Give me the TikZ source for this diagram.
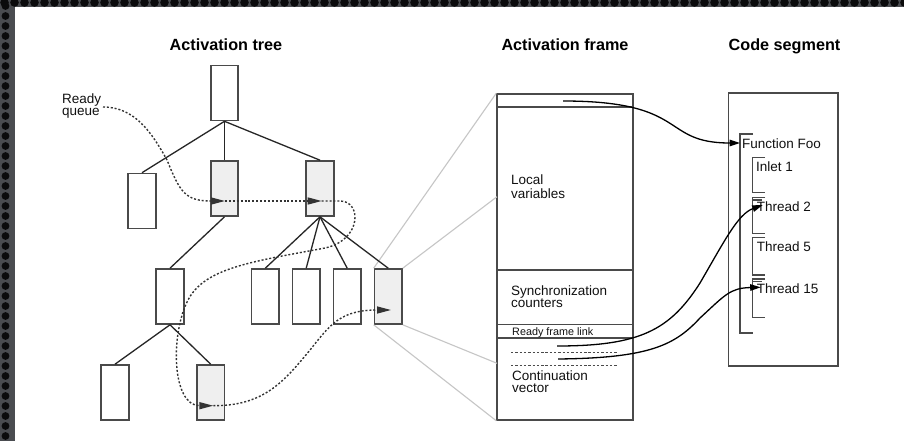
\documentclass[tikz,border=0pt]{standalone}
\usepackage{fontspec}
\setmainfont{Liberation Sans}
\usetikzlibrary{arrows.meta}
\definecolor{boxline}{HTML}{4A4A4A}
\definecolor{activefill}{HTML}{EFEFEF}
\definecolor{fanline}{HTML}{C6C6C6}
\definecolor{plate}{HTML}{4A4C50}
\definecolor{hole}{HTML}{0B0B0C}
\definecolor{ink}{HTML}{111111}
\begin{document}
\begin{tikzpicture}[x=1pt,y=-1pt,
  framebox/.style={draw=boxline,line width=1.6pt,inner sep=0pt,minimum width=27.5pt,minimum height=55pt},
  idle/.style={framebox,fill=white},
  active/.style={framebox,fill=activefill},
  treeedge/.style={draw=black!85,line width=1.3pt},
  fan/.style={draw=fanline,line width=1.1pt},
  queue/.style={draw=black!80,line width=1.4pt,dash pattern=on 2pt off 1.9pt},
  queuehead/.style={-{Triangle[length=14pt,width=7pt]}},
  title/.style={font=\fontsize{16.2}{18}\selectfont\bfseries,inner sep=0pt,anchor=base},
  txt/.style={font=\fontsize{13.5}{14}\selectfont,inner sep=0pt,anchor=base west,text=ink},
  tinytxt/.style={font=\fontsize{10.8}{12}\selectfont,inner sep=0pt,anchor=base west,text=ink},
  pen/.style={draw=boxline,line width=1.5pt},
  cvdash/.style={draw=boxline,line width=0.9pt,dash pattern=on 2.4pt off 1.9pt},
  pointer/.style={draw=black,line width=1.3pt,-{Triangle[length=10.5pt,width=6.5pt]}},
]
% perforated slide border and white page
\useasboundingbox (0,0) rectangle (904,441);
\fill[plate] (0,0) rectangle (904,441);
\foreach \i in {0,...,90} \fill[hole] (4.5+10*\i,2.5) circle (4.3pt);
\foreach \j in {0,...,44} \fill[hole] (5.5,6+10*\j) circle (3.9pt);
\fill[white] (15,7) rectangle (904,441);

% column titles
\node[title] (ttree)  at (226,50.8)   {Activation tree};
\node[title] (tframe) at (565,50.8)   {Activation frame};
\node[title] (tcode)  at (784.5,50.8) {Code segment};

% activation tree
\node[idle]   (root) at (224.5,93)    {};
\node[idle]   (a1)   at (142,201)     {};
\node[active] (a2)   at (224.5,188.5) {};
\node[active] (a3)   at (320,188.5)   {};
\node[idle]   (b1)   at (170,296.5)   {};
\node[idle]   (b2)   at (265.3,296.5) {};
\node[idle]   (b3)   at (306.2,296.5) {};
\node[idle]   (b4)   at (347.2,296.5) {};
\node[active] (b5)   at (388.2,296.5) {};
\node[idle]   (c1)   at (115,392.5)   {};
\node[active] (c2)   at (210.7,392.5) {};

% activation frame
\node[draw=boxline,line width=1.5pt,inner sep=0pt,minimum width=136pt,minimum height=326pt] (frame) at (565,257) {};
\draw[pen] (497,107) -- (633,107);
\draw[pen] (497,270) -- (633,270);
\draw[pen] (497,324.5) -- (633,324.5);
\draw[pen] (497,338) -- (633,338);

% zoom lines from the active frame to its layout
\coordinate (fanA) at (497,196.7);
\coordinate (fanB) at (497,363.3);
\draw[fan] (b5.north west) -- (frame.north west);
\draw[fan] (b5.north east) -- (fanA);
\draw[fan] (b5.south east) -- (fanB);
\draw[fan] (b5.south west) -- (frame.south west);

% tree edges
\draw[treeedge] (root.south) -- (a1.north);
\draw[treeedge] (root.south) -- (a2.north);
\draw[treeedge] (root.south) -- (a3.north);
\draw[treeedge] (a2.south) -- (b1.north);
\draw[treeedge] (a3.south) -- (b2.north);
\draw[treeedge] (a3.south) -- (b3.north);
\draw[treeedge] (a3.south) -- (b4.north);
\draw[treeedge] (a3.south) -- (b5.north);
\draw[treeedge] (b1.south) -- (c1.north);
\draw[treeedge] (b1.south) -- (c2.north);

% frame contents
\node[txt] (lv1) at (511,184.3) {Local};
\node[txt] (lv2) at (511,198.7) {variables};
\node[txt] (sc1) at (511,295)   {Synchronization};
\node[txt] (sc2) at (511,307.7) {counters};
\node[tinytxt] (rfl) at (512,335.3) {Ready frame link};
\draw[cvdash] (511,352) -- (617,352);
\draw[cvdash] (511,365.7) -- (617,365.7);
\node[txt] (cv1) at (512,380)   {Continuation};
\node[txt] (cv2) at (512,392.3) {vector};

% code segment
\node[draw=boxline,line width=1.5pt,inner sep=0pt,minimum width=109.5pt,minimum height=272.5pt] (code) at (783,229.5) {};
\draw[pen] (753,134) -- (740,134) -- (740,333) -- (753,333);
\draw[pen] (765,157.3) -- (752.3,157.3) -- (752.3,192.7) -- (765,192.7);
\draw[pen] (765,197.3) -- (752.3,197.3) -- (752.3,233.3) -- (765,233.3);
\draw[pen] (752.3,199.8) -- (762,199.8);
\draw[pen] (765,237.3) -- (752.3,237.3) -- (752.3,275) -- (765,275);
\draw[pen] (765,279) -- (752.3,279) -- (752.3,317.7) -- (765,317.7);
\draw[pen] (752.3,281.5) -- (762,281.5);
\node[txt] (foo) at (742,148.3)   {Function Foo};
\node[txt] (in1) at (756,171.7)   {Inlet 1};
\node[txt] (th2) at (756.7,211)   {Thread 2};
\node[txt] (th5) at (756.7,251.7) {Thread 5};
\node[txt] (th15) at (756.7,293.3) {Thread 15};

% ready queue
\node[txt] (rq1) at (62,103.3) {Ready};
\node[txt] (rq2) at (62,115.3) {queue};
\coordinate (rqs) at (103,107);
\coordinate (q1) at (225,201);
\coordinate (q2) at (321.7,201);
\coordinate (q3) at (213.3,405.7);
\coordinate (q4) at (391,310);
\draw[queue,queuehead] (rqs) .. controls (135,107) and (152,133) .. (167,160)
  .. controls (180,192) and (185,201) .. (q1);
\draw[queue,queuehead] (q1) -- (q2);
\draw[queue,queuehead] (q2) -- (340,201) .. controls (362,201) and (362,240) .. (325,248)
  .. controls (250,262) and (205,268) .. (188,300)
  .. controls (170,335) and (172,405.7) .. (q3);
\draw[queue,queuehead] (q3) .. controls (265,406) and (285,380) .. (310,350)
  .. controls (330,325) and (340,310) .. (q4);

% pointers into the code segment
\coordinate (linkfrom) at (563,101);
\coordinate (cvA) at (557,346);
\coordinate (cvB) at (558,359);
\coordinate (tFoo) at (740,143);
\coordinate (tT2) at (762.7,205);
\coordinate (tT15) at (760.7,287.3);
\draw[pointer] (linkfrom) .. controls (690,101) and (660,143) .. (tFoo);
\draw[pointer] (cvA) .. controls (640,346) and (670,330) .. (700,283)
  .. controls (725,240) and (738,214) .. (tT2);
\draw[pointer] (cvB) .. controls (650,358) and (675,345) .. (700,318)
  .. controls (725,295) and (730,288) .. (tT15);
\end{tikzpicture}
\end{document}
